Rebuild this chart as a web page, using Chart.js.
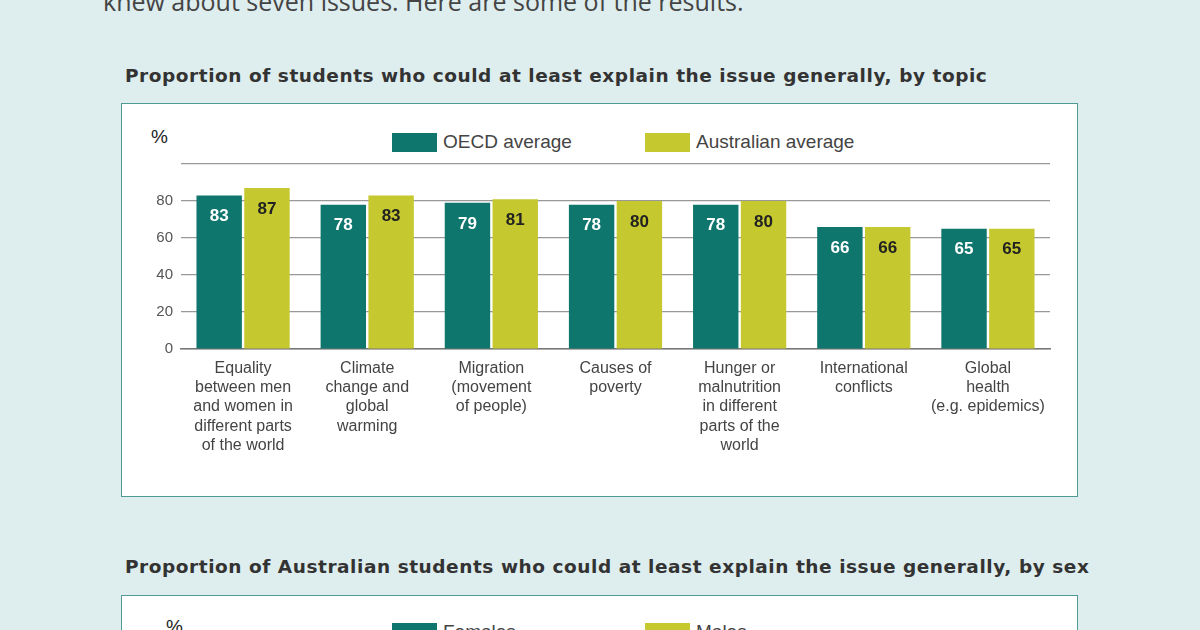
<!DOCTYPE html>
<html>
<head>
<meta charset="utf-8">
<script src="https://cdn.jsdelivr.net/npm/chart.js@4"></script>
<style>
  body { margin: 0; width: 1200px; height: 630px; overflow: hidden; background: #deedee; font-family: "Liberation Sans", Arial, sans-serif; position: relative; }
  .intro { position: absolute; left: 103px; top: -16px; font-size: 25px; color: #444; font-family: "Open Sans", sans-serif; }
  .title { position: absolute; left: 125px; font-weight: bold; font-size: 18.5px; color: #333; letter-spacing: 0.55px; font-family: "DejaVu Sans", sans-serif; }
  .box { position: absolute; left: 121px; width: 955px; background: #fff; border: 1.5px solid #4f9a94; }
  .pct { position: absolute; font-size: 19px; color: #222; }
  .leg { position: absolute; font-size: 19px; color: #444; display: flex; align-items: center; }
  .leg span { display: inline-block; width: 45px; height: 19px; margin-right: 6px; }
</style>
</head>
<body>
<div class="intro">knew about seven issues. Here are some of the results.</div>
<div class="title" style="top:65px">Proportion of students who could at least explain the issue generally, by topic</div>
<div class="box" style="top:103px;height:392px">
  <div class="pct" style="left:29px;top:22px">%</div>
  <div class="leg" style="left:270px;top:27px"><span style="background:#0f766d"></span>OECD average</div>
  <div class="leg" style="left:523px;top:27px"><span style="background:#c5c82e"></span>Australian average</div>
  <canvas id="c1" width="955" height="392" style="position:absolute;left:0;top:0"></canvas>
</div>
<div class="title" style="top:556px">Proportion of Australian students who could at least explain the issue generally, by sex</div>
<div class="box" style="top:595px;height:60px">
  <div class="pct" style="left:44px;top:20px">%</div>
  <div class="leg" style="left:270px;top:25px"><span style="background:#0f766d"></span>Females</div>
  <div class="leg" style="left:523px;top:25px"><span style="background:#c5c82e"></span>Males</div>
</div>
<script>
const topics = [
  ["Equality", "between men", "and women in", "different parts", "of the world"],
  ["Climate", "change and", "global", "warming"],
  ["Migration", "(movement", "of people)"],
  ["Causes of", "poverty"],
  ["Hunger or", "malnutrition", "in different", "parts of the", "world"],
  ["International", "conflicts"],
  ["Global", "health", "(e.g. epidemics)"]
];
const oecdAverage = [83, 78, 79, 78, 78, 66, 65];
const australianAverage = [87, 83, 81, 80, 80, 66, 65];
const yTicks = [0, 10, 20, 30, 40, 50, 60, 70, 80, 90];

const valueLabels = {
  id: 'valueLabels',
  afterDatasetsDraw(chart) {
    const ctx = chart.ctx;
    ctx.save();
    ctx.font = 'bold 17px "Liberation Sans", Arial, sans-serif';
    ctx.textAlign = 'center';
    ctx.textBaseline = 'middle';
    chart.data.datasets.forEach((ds, i) => {
      ctx.fillStyle = i === 0 ? '#ffffff' : '#222222';
      chart.getDatasetMeta(i).data.forEach((bar, j) => {
        ctx.fillText(ds.data[j], bar.x, bar.y + 21);
      });
    });
    ctx.restore();
  }
};

new Chart("c1", {
  type: "bar",
  data: {
    labels: topics,
    datasets: [
      { label: "OECD average", data: oecdAverage, backgroundColor: "#0f766d", categoryPercentage: 0.77, barPercentage: 0.95 },
      { label: "Australian average", data: australianAverage, backgroundColor: "#c5c82e", categoryPercentage: 0.77, barPercentage: 0.95 }
    ]
  },
  options: {
    responsive: false,
    animation: false,
    devicePixelRatio: 1,
    layout: { padding: { top: 60, right: 27, bottom: 4, left: 0 } },
    plugins: { legend: { display: false }, tooltip: { enabled: false } },
    scales: {
      x: {
        grid: { display: false },
        border: { color: '#777', width: 1.5 },
        ticks: { color: '#444', font: { size: 16, family: '"Liberation Sans", Arial, sans-serif' }, maxRotation: 0, autoSkip: false, padding: 2 },
        afterFit(scale) { scale.height = 143; }
      },
      y: {
        min: 0, max: 100,
        afterBuildTicks(scale) { scale.ticks = yTicks.concat([100]).map(v => ({ value: v })); },
        grid: { color: '#999', lineWidth: 1.2, drawTicks: false },
        border: { display: false },
        ticks: { color: '#555', font: { size: 15, family: '"Liberation Sans", Arial, sans-serif' }, padding: 8,
          callback: v => v === 100 ? '' : v },
        afterFit(scale) { scale.width = 59; }
      }
    }
  },
  plugins: [valueLabels]
});
</script>
</body>
</html>
